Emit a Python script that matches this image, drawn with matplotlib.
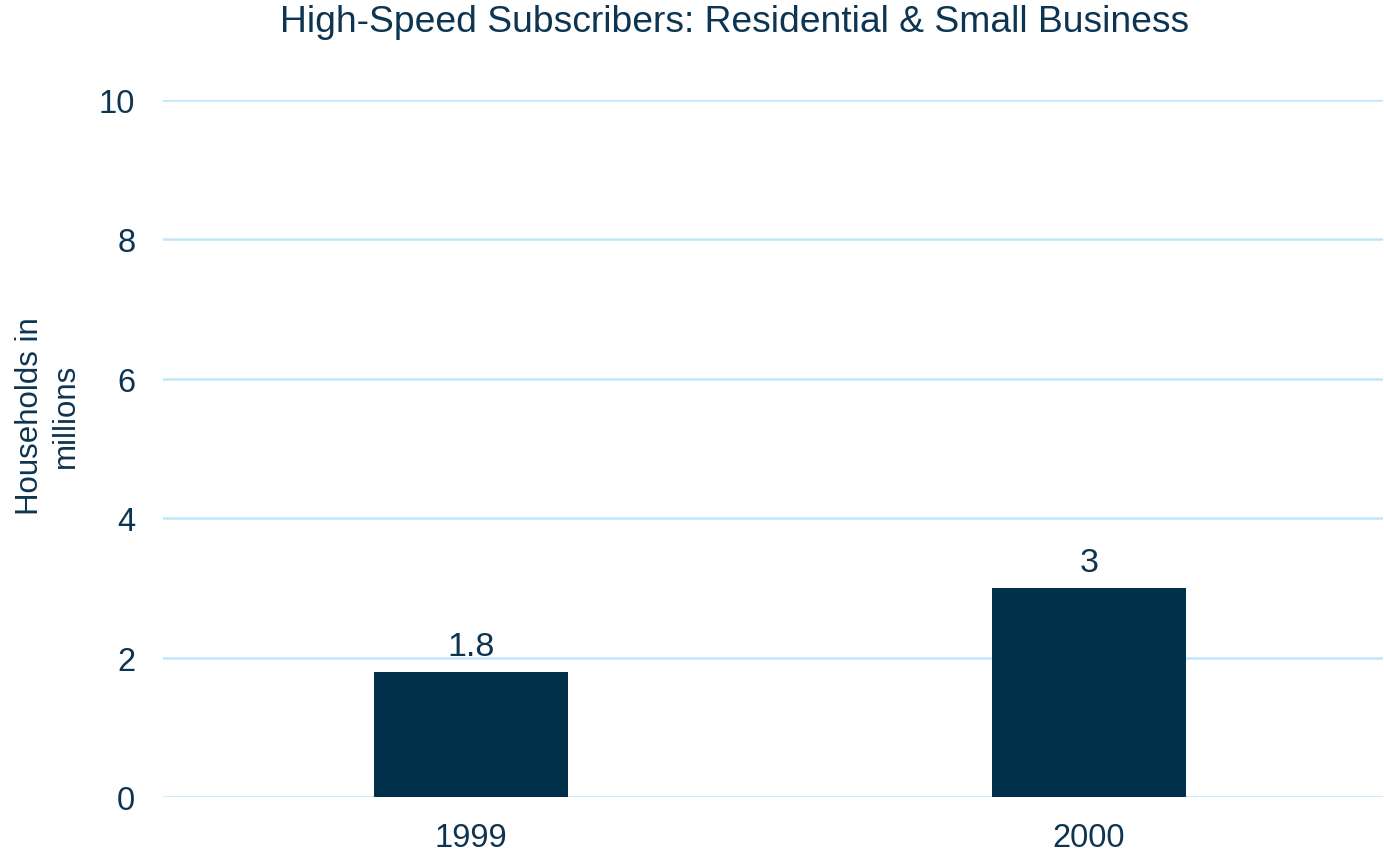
import matplotlib
matplotlib.use("Agg")
import matplotlib.pyplot as plt

years = ["1999", "2000"]
subscribers = [1.8, 3]
yticks = [0, 2, 4, 6, 8, 10]

text_c = "#0d3450"
bar_c = "#00304a"
grid_c = "#bfe6fb"

plt.rcParams["font.family"] = ["Liberation Sans", "DejaVu Sans"]

fig = plt.figure(figsize=(13.84, 8.53), dpi=100)
ax = fig.add_axes([0.1178, 0.0645, 0.8815, 0.8171])

x = list(range(len(years)))
bars = ax.bar(x, subscribers, width=0.313, color=bar_c, zorder=3)
for b, v in zip(bars, subscribers):
    ax.annotate(f"{v:g}", (b.get_x() + b.get_width() / 2, v), xytext=(0, 7),
                textcoords="offset points", ha="center", va="bottom",
                fontsize=24.5, color=text_c)

ax.set_xlim(-0.498, 1.476)
ax.set_ylim(0, 10)
ax.set_yticks(yticks)
ax.set_xticks(x)
ax.set_xticklabels(years)
ax.tick_params(axis="both", length=0, labelsize=23.5, labelcolor=text_c)
ax.tick_params(axis="y", pad=20)
ax.tick_params(axis="x", pad=18)
ax.grid(axis="y", color=grid_c, linewidth=1.8, zorder=0)
for s in ax.spines.values():
    s.set_visible(False)

# y label and title sit a bit off the axes centre in the original
fig.text(48 / 1384, 1 - 416 / 853, "Households in\nmillions", rotation=90,
         ha="center", va="center", multialignment="center", linespacing=1.25,
         fontsize=22.5, color=text_c)
fig.text(735 / 1384, 1 - 22 / 853,
         "High-Speed Subscribers: Residential & Small Business",
         ha="center", va="center", fontsize=26.8, color=text_c)

fig.savefig("out.png", dpi=100)
